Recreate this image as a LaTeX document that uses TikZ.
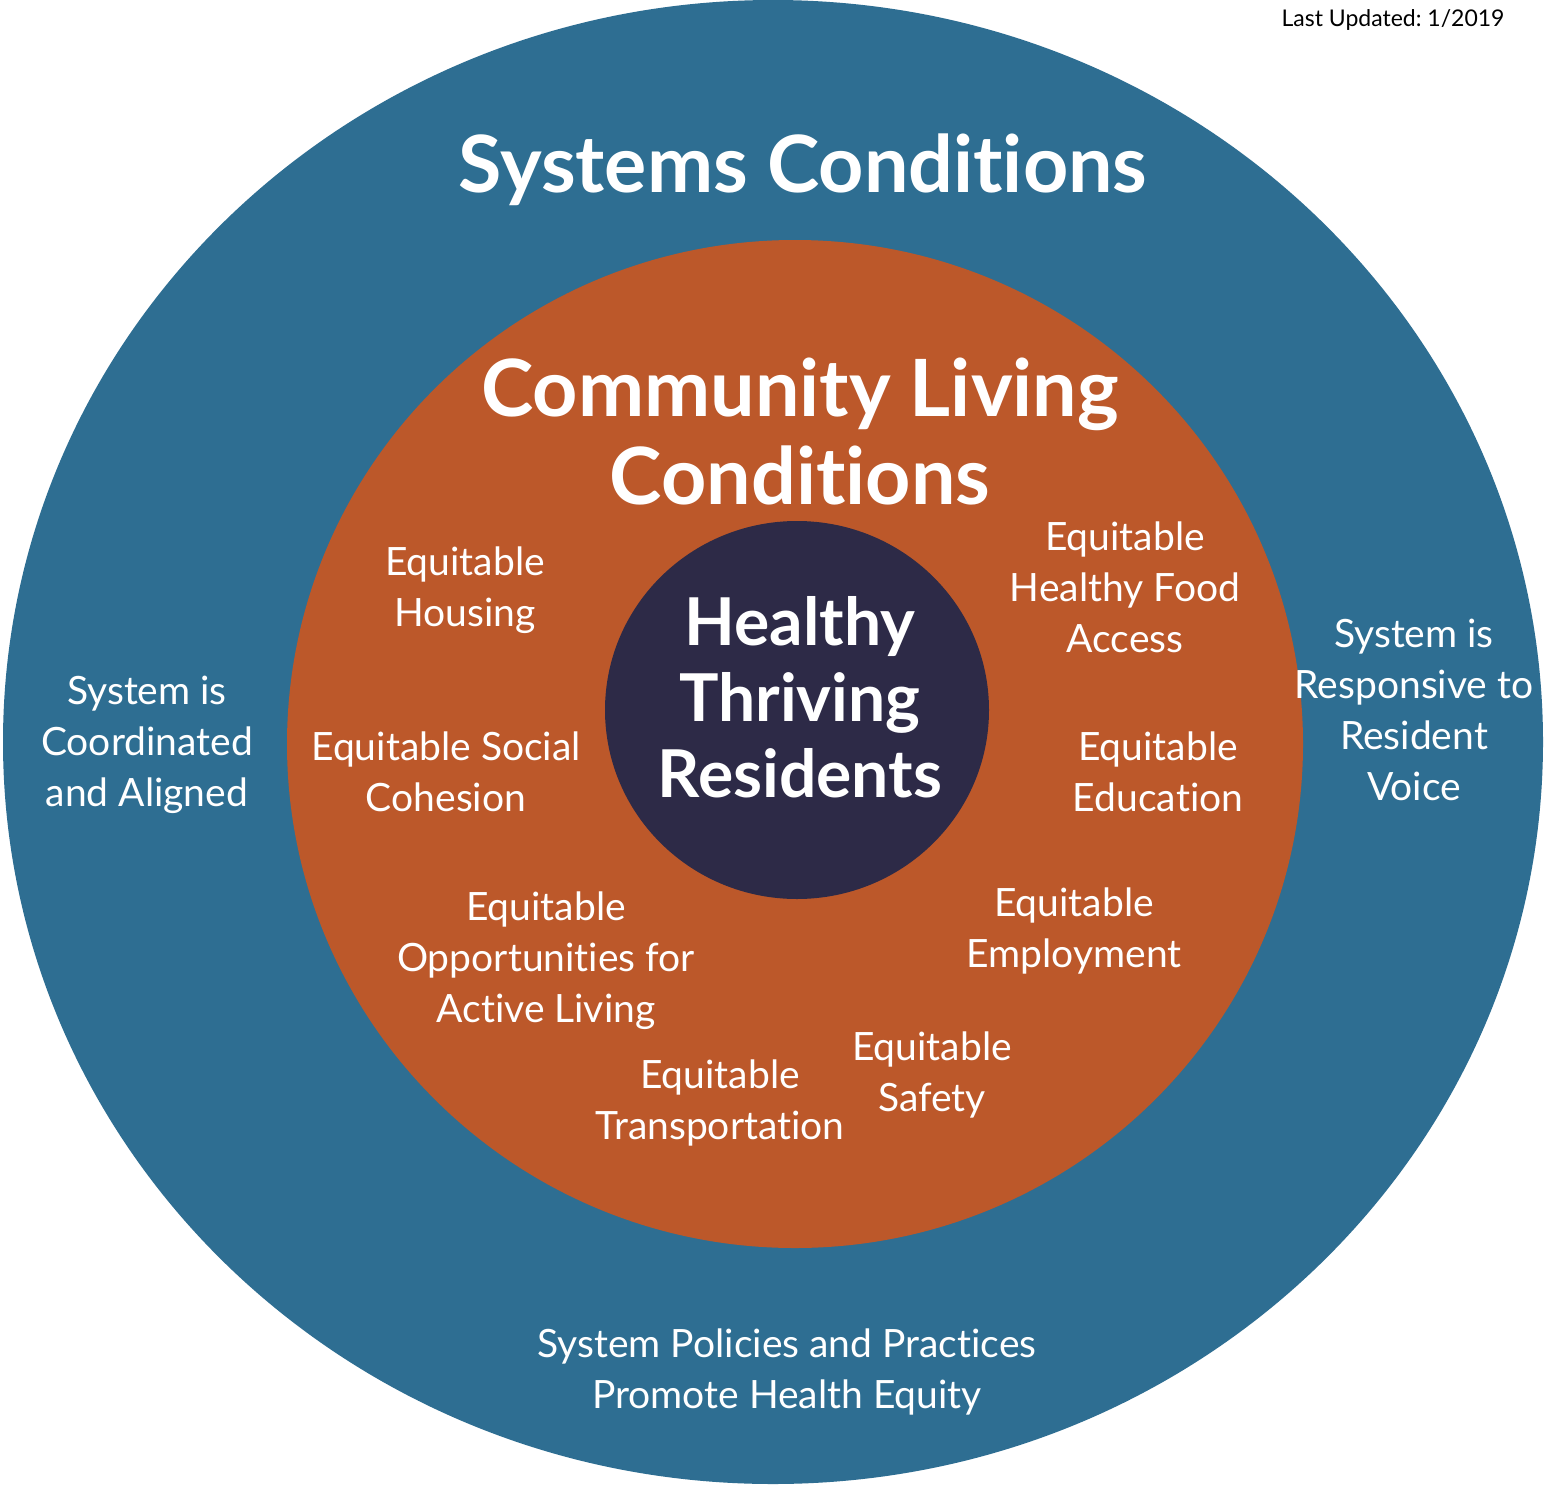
\documentclass[tikz,border=0pt]{standalone}
\usepackage{fontspec}
\setmainfont{Lato}[Ligatures=NoCommon]
\definecolor{outerblue}{HTML}{2E6E92}
\definecolor{midorange}{HTML}{BC582A}
\definecolor{innerdark}{HTML}{2D2A47}
\begin{document}
\begin{tikzpicture}[x=1pt,y=-1pt,
  lbl/.style={text=white,align=center,font=\fontsize{39}{51}\selectfont,inner sep=0pt},
  bigttl/.style={text=white,align=center,font=\fontsize{79}{88}\selectfont\bfseries,inner sep=0pt},
  ctr/.style={text=white,align=center,font=\fontsize{66}{76}\selectfont\bfseries,inner sep=0pt}]
\useasboundingbox (0,0) rectangle (1544,1485);
\fill[white] (0,0) rectangle (1544,1485);
\fill[outerblue] (773,742) ellipse [x radius=770, y radius=742];
\fill[midorange] (795,744) ellipse [x radius=508, y radius=504];
\fill[innerdark] (797,710) ellipse [x radius=192, y radius=189];
\node[inner sep=0pt,font=\fontsize{23}{26}\selectfont] (upd) at (1393,20) {Last Updated:\ 1/2019};
\node[bigttl] (sys) at (803,170) {Systems Conditions};
\node[bigttl] (com) at (800,432) {Community Living\\Conditions};
\node[ctr] (htr) at (800,697) {Healthy\\Thriving\\Residents};
\node[lbl] (hous) at (465,590) {Equitable\\Housing};
\node[lbl] (food) at (1125,587) {Equitable\\Healthy Food\\Access};
\node[lbl] (coord) at (147,745) {System is\\Coordinated\\and Aligned};
\node[lbl] (resp) at (1414,710) {System is\\Responsive to\\Resident\\Voice};
\node[lbl] (soc) at (446,772) {Equitable Social\\Cohesion};
\node[lbl] (edu) at (1158,772) {Equitable\\Education};
\node[lbl] (emp) at (1074,931) {Equitable\\Employment};
\node[lbl] (act) at (546,961) {Equitable\\Opportunities for\\Active Living};
\node[lbl] (saf) at (932,1075) {Equitable\\Safety};
\node[lbl] (trn) at (720,1103) {Equitable\\Transportation};
\node[lbl] (pol) at (787,1372) {System Policies and Practices\\Promote Health Equity};
\end{tikzpicture}
\end{document}
